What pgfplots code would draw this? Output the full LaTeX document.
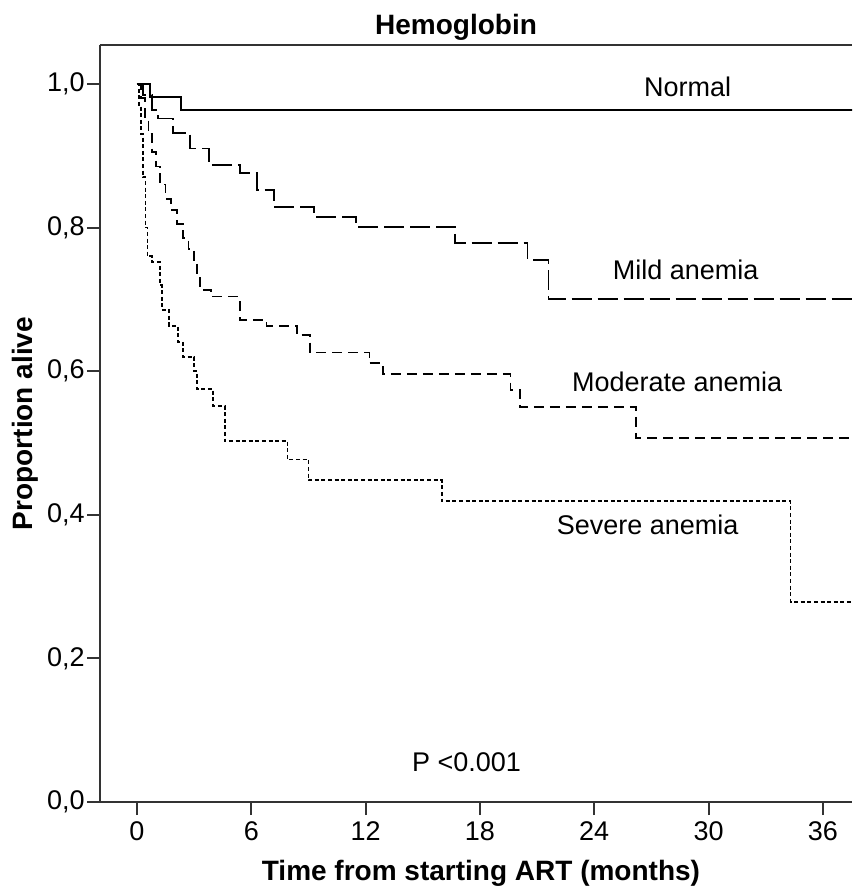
\documentclass[border=0pt]{standalone}
\usepackage{fontspec}
\setmainfont{Liberation Sans}
\usepackage{pgfplots}
\pgfplotsset{compat=1.18}
\begin{document}
\begin{tikzpicture}
\begin{axis}[
  at={(0,0)}, anchor=south west,
  scale only axis, width=376pt, height=378.5pt,
  xmin=-1.942, xmax=37.53, ymin=0, ymax=1.0543,
  axis x line=box, axis y line=left,
  axis line style={-, draw=black!80, line width=1pt},
  xtick pos=lower, ytick pos=left,
  tick align=outside, major tick length=6.5pt,
  tick style={draw=black!80, line width=1pt},
  xtick={0,6,12,18,24,30,36},
  ytick={0,0.2,0.4,0.6,0.8,1.0},
  /pgf/number format/assume math mode=true,
  yticklabel style={/pgf/number format/fixed, /pgf/number format/fixed zerofill, /pgf/number format/precision=1, /pgf/number format/use comma, inner sep=1pt},
  ticklabel style={font=\fontsize{13.5}{15}\selectfont},
  xticklabel style={inner sep=3pt},
  xlabel={Time from starting ART (months)},
  ylabel={Proportion alive},
  label style={font=\bfseries\fontsize{14}{16}\selectfont},
  xlabel style={at={(axis description cs:0.5066,-0.0938)}, anchor=center},
  ylabel style={at={(axis description cs:-0.0997,0.5)}, anchor=center},
  clip mode=individual,
]
\addplot[const plot, black, line width=0.9pt] coordinates {
(0,1.000) (0.7,0.982) (2.3,0.964) (40,0.964)};
\addplot[const plot, black, line width=0.9pt, dash pattern=on 10pt off 3pt] coordinates {
(0,1.000) (0.3,0.985) (0.8,0.964) (1.1,0.952) (1.9,0.932) (2.8,0.910) (3.8,0.887)
(5.4,0.876) (6.3,0.852) (7.2,0.829) (9.3,0.815) (11.5,0.801) (16.7,0.778)
(20.5,0.755) (21.6,0.700) (40,0.700)};
\addplot[const plot, black, line width=0.9pt, dash pattern=on 5pt off 3pt] coordinates {
(0,1.000) (0.2,0.980) (0.4,0.950) (0.6,0.930) (0.8,0.905) (1.0,0.885) (1.2,0.860)
(1.5,0.840) (1.8,0.825) (2.1,0.805) (2.4,0.785) (2.7,0.770) (3.0,0.750) (3.15,0.730)
(3.3,0.713) (3.9,0.704) (5.4,0.671) (6.8,0.663) (8.4,0.650) (9.1,0.626) (12.2,0.611)
(12.9,0.596) (19.6,0.574) (20.1,0.550) (26.2,0.507) (40,0.507)};
\addplot[const plot, black, line width=0.9pt, dash pattern=on 2pt off 1.3pt] coordinates {
(0,1.000) (0.1,0.970) (0.2,0.930) (0.3,0.870) (0.45,0.800) (0.55,0.760) (0.8,0.752)
(1.2,0.720) (1.3,0.690) (1.35,0.685) (1.7,0.663) (2.15,0.641) (2.4,0.620) (3.0,0.600)
(3.15,0.575) (4.0,0.552) (4.6,0.503) (7.9,0.477) (9.0,0.448) (16.0,0.419)
(34.3,0.279) (40,0.279)};
\node[font=\fontsize{13.5}{15}\selectfont] at (axis cs:28.9,0.996) {Normal};
\node[font=\fontsize{13.5}{15}\selectfont] at (axis cs:28.8,0.741) {Mild anemia};
\node[font=\fontsize{13.5}{15}\selectfont] at (axis cs:28.35,0.585) {Moderate anemia};
\node[font=\fontsize{13.5}{15}\selectfont] at (axis cs:26.8,0.386) {Severe anemia};
\node[font=\fontsize{13.5}{15}\selectfont] at (axis cs:17.3,0.056) {P <0.001};
\node[font=\bfseries\fontsize{14}{16}\selectfont, anchor=base] at (axis description cs:0.4734,1.0132) {Hemoglobin};
\end{axis}
\pgfresetboundingbox
\path[use as bounding box] (-50pt,-43pt) rectangle (376pt,401pt);
\end{tikzpicture}
\end{document}
